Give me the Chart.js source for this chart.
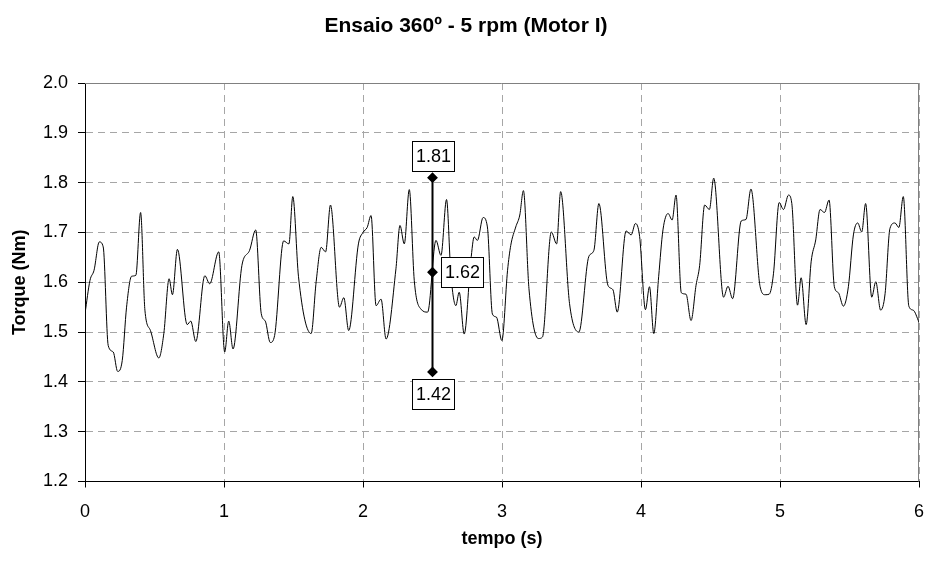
<!DOCTYPE html>
<html>
<head>
<meta charset="utf-8">
<script src="https://cdn.jsdelivr.net/npm/chart.js@4.4.0/dist/chart.umd.min.js"></script>
<style>
  html, body { margin: 0; padding: 0; background: #fff; }
  #wrap { width: 925px; height: 562px; }
</style>
</head>
<body>
<div id="wrap"><canvas id="c" width="925" height="562"></canvas></div>
<script>
// Torque signal, 360° test at 5 rpm (Motor I)
const timeS = [
  0.000, 0.036, 0.065, 0.103, 0.131, 0.167, 0.203, 0.235, 0.268, 0.299,
  0.335, 0.366, 0.400, 0.431, 0.471, 0.531, 0.567, 0.605, 0.629, 0.665,
  0.735, 0.761, 0.797, 0.862, 0.897, 0.962, 1.005, 1.034, 1.065, 1.129,
  1.184, 1.228, 1.268, 1.297, 1.333, 1.364, 1.429, 1.467, 1.495, 1.536,
  1.627, 1.663, 1.699, 1.731, 1.766, 1.831, 1.862, 1.897, 1.967, 2.000,
  2.030, 2.058, 2.094, 2.130, 2.166, 2.237, 2.266, 2.297, 2.333, 2.369,
  2.417, 2.465, 2.525, 2.561, 2.601, 2.632, 2.668, 2.692, 2.728, 2.776,
  2.800, 2.823, 2.864, 2.895, 2.931, 2.960, 2.999, 3.040, 3.063, 3.099,
  3.128, 3.154, 3.194, 3.262, 3.291, 3.355, 3.393, 3.422, 3.486, 3.553,
  3.625, 3.661, 3.697, 3.762, 3.798, 3.829, 3.893, 3.929, 3.960, 3.990,
  4.032, 4.061, 4.092, 4.127, 4.158, 4.195, 4.224, 4.252, 4.290, 4.324,
  4.360, 4.396, 4.422, 4.458, 4.492, 4.523, 4.594, 4.626, 4.659, 4.721,
  4.755, 4.791, 4.857, 4.893, 4.922, 4.953, 4.994, 5.025, 5.061, 5.085,
  5.126, 5.152, 5.188, 5.224, 5.257, 5.288, 5.320, 5.353, 5.391, 5.420,
  5.456, 5.492, 5.528, 5.559, 5.588, 5.616, 5.660, 5.689, 5.724, 5.756,
  5.791, 5.827, 5.855, 5.887, 5.927, 5.958, 6.000
];
const torqueNm = [
  1.537, 1.604, 1.624, 1.681, 1.671, 1.473, 1.460, 1.421, 1.443, 1.550,
  1.612, 1.614, 1.740, 1.544, 1.503, 1.448, 1.497, 1.607, 1.575, 1.666,
  1.515, 1.522, 1.481, 1.613, 1.597, 1.661, 1.460, 1.522, 1.466, 1.634,
  1.664, 1.705, 1.537, 1.522, 1.479, 1.493, 1.683, 1.677, 1.772, 1.611,
  1.497, 1.601, 1.670, 1.661, 1.755, 1.550, 1.569, 1.503, 1.677, 1.700,
  1.710, 1.734, 1.553, 1.566, 1.486, 1.627, 1.714, 1.677, 1.786, 1.603,
  1.546, 1.540, 1.684, 1.654, 1.766, 1.617, 1.553, 1.580, 1.496, 1.644,
  1.691, 1.684, 1.730, 1.711, 1.536, 1.530, 1.483, 1.624, 1.674, 1.711,
  1.735, 1.784, 1.587, 1.487, 1.490, 1.701, 1.677, 1.782, 1.557, 1.500,
  1.652, 1.664, 1.758, 1.594, 1.585, 1.540, 1.703, 1.695, 1.718, 1.692,
  1.545, 1.591, 1.497, 1.611, 1.705, 1.738, 1.725, 1.775, 1.579, 1.576,
  1.523, 1.594, 1.634, 1.755, 1.746, 1.809, 1.570, 1.592, 1.567, 1.723,
  1.726, 1.787, 1.591, 1.575, 1.576, 1.617, 1.760, 1.746, 1.775, 1.758,
  1.554, 1.609, 1.515, 1.641, 1.685, 1.746, 1.740, 1.765, 1.591, 1.579,
  1.552, 1.591, 1.695, 1.719, 1.701, 1.758, 1.570, 1.601, 1.544, 1.577,
  1.708, 1.719, 1.710, 1.772, 1.552, 1.544, 1.520
];

// Min / mean / max marker drawn at t = 2.5 s
const markerTime = 2.5;
const markerValues = [1.42, 1.62, 1.81];

const FONT = '"Liberation Sans", Arial, sans-serif';
const GRID = '#a6a6a6';

// Boxed value labels next to the min / mean / max marker
const markerLabels = {
  id: 'markerLabels',
  afterDatasetsDraw(chart) {
    const meta = chart.getDatasetMeta(1);
    const ctx = chart.ctx;
    const w = 42, h = 30, gap = 7;
    ctx.save();
    ctx.font = '18px ' + FONT;
    ctx.textAlign = 'center';
    ctx.textBaseline = 'middle';
    meta.data.forEach((pt, i) => {
      let bx, by;
      if (i === 0) { bx = pt.x - w / 2; by = pt.y + gap; }
      else if (i === markerValues.length - 1) { bx = pt.x - w / 2; by = pt.y - gap - h; }
      else { bx = pt.x + 8; by = pt.y - h / 2; }
      bx = Math.round(bx) + 0.5; by = Math.round(by) + 0.5;
      ctx.fillStyle = '#fff';
      ctx.fillRect(bx, by, w, h);
      ctx.strokeStyle = '#000';
      ctx.lineWidth = 1;
      ctx.strokeRect(bx, by, w, h);
      ctx.fillStyle = '#000';
      ctx.fillText(markerValues[i].toFixed(2), bx + w / 2, by + h / 2 + 1);
    });
    ctx.restore();
  }
};

// Grey frame on the top and right of the plot area
const plotFrame = {
  id: 'plotFrame',
  beforeDatasetsDraw(chart) {
    const { ctx, chartArea: a } = chart;
    ctx.save();
    ctx.strokeStyle = '#808080';
    ctx.lineWidth = 1;
    ctx.beginPath();
    ctx.moveTo(a.left, a.top + 0.5);
    ctx.lineTo(a.right - 0.5, a.top + 0.5);
    ctx.lineTo(a.right - 0.5, a.bottom);
    ctx.stroke();
    ctx.restore();
  }
};

Chart.defaults.color = '#000';
Chart.defaults.font.family = FONT;

new Chart(document.getElementById('c'), {
  type: 'line',
  data: {
    datasets: [
      {
        label: 'Torque',
        data: timeS.map((t, i) => ({ x: t, y: torqueNm[i] })),
        borderColor: '#000',
        borderWidth: 1,
        pointRadius: 0,
        cubicInterpolationMode: 'monotone',
        fill: false
      },
      {
        label: 'Min / média / máx',
        data: markerValues.map(v => ({ x: markerTime, y: v })),
        borderColor: '#000',
        borderWidth: 2,
        pointStyle: 'rectRot',
        pointRadius: 4,
        pointBackgroundColor: '#000',
        pointBorderColor: '#000',
        fill: false
      }
    ]
  },
  options: {
    responsive: false,
    animation: false,
    devicePixelRatio: 1,
    layout: { padding: { left: 7, right: 0, top: 0, bottom: 0 } },
    plugins: {
      legend: { display: false },
      tooltip: { enabled: false },
      title: {
        display: true,
        text: 'Ensaio 360º - 5 rpm (Motor I)',
        color: '#000',
        font: { family: FONT, size: 21, weight: 'bold' },
        padding: { top: 14, bottom: 43.8 }
      }
    },
    scales: {
      x: {
        type: 'linear',
        min: 0, max: 6,
        ticks: { stepSize: 1, padding: 14, font: { size: 18 }, color: '#000' },
        grid: { color: GRID, tickColor: '#000', tickLength: 6, lineWidth: 1 },
        border: { display: true, color: '#000', width: 1, dash: [7, 5] },
        title: {
          display: true, text: 'tempo (s)',
          font: { family: FONT, size: 18, weight: 'bold' },
          padding: { top: 0, bottom: 12 }
        },
        afterFit(s) { s.height = 80.5; s.paddingLeft = 0; s.paddingRight = 6; }
      },
      y: {
        min: 1.2, max: 2.0,
        ticks: { stepSize: 0.1, padding: 10, font: { size: 18 }, color: '#000',
                 callback: v => Number(v).toFixed(1) },
        grid: { color: GRID, tickColor: '#000', tickLength: 7, lineWidth: 1 },
        border: { display: true, color: '#000', width: 1, dash: [7, 5] },
        title: {
          display: true, text: 'Torque (Nm)',
          font: { family: FONT, size: 18, weight: 'bold' },
          padding: { top: 2, bottom: 0 }
        },
        afterFit(s) { s.width = 78; }
      }
    }
  },
  plugins: [plotFrame, markerLabels]
});
</script>
</body>
</html>
